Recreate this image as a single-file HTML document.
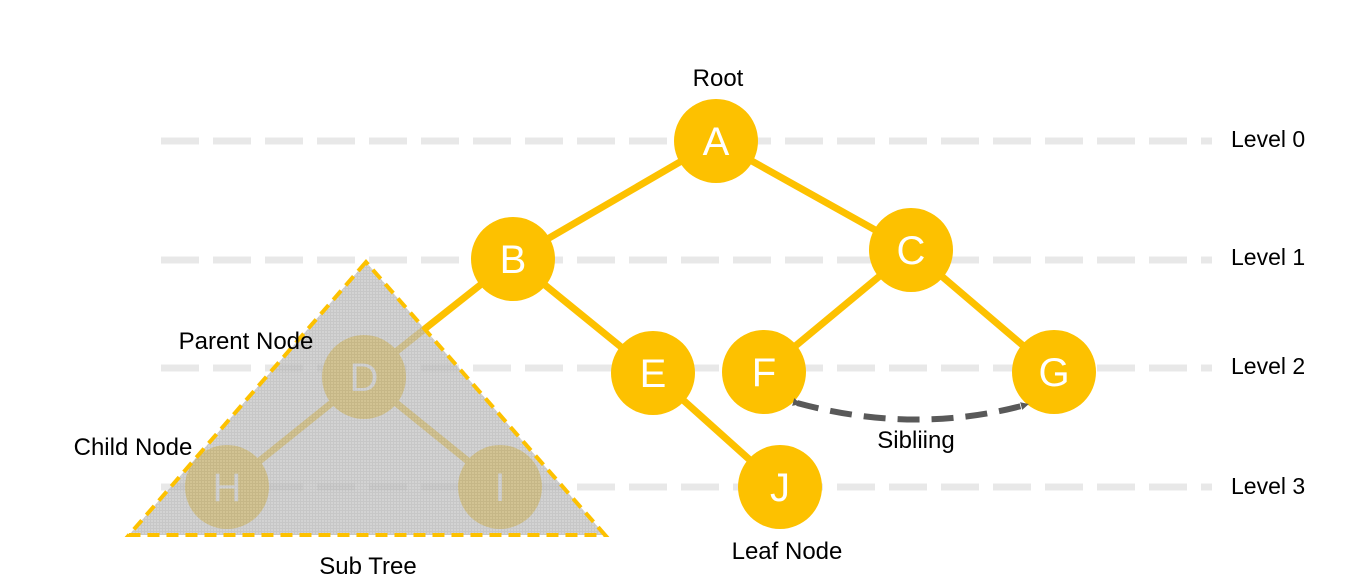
<!DOCTYPE html>
<html><head><meta charset="utf-8"><style>
html,body{margin:0;padding:0;background:#fff;}
svg{display:block;}
text{font-family:"Liberation Sans",Arial,sans-serif;}
</style></head><body>
<svg width="1358" height="582" viewBox="0 0 1358 582">
<defs>
<pattern id="hatch" width="3" height="3" patternUnits="userSpaceOnUse">
<rect width="3" height="3" fill="#c4c4c4"/>
<rect width="1" height="3" fill="#b4b4b4"/>
<rect width="3" height="1" fill="#b4b4b4"/>
</pattern>
<marker id="ah" markerWidth="8" markerHeight="8" refX="4" refY="4" orient="auto" markerUnits="userSpaceOnUse" viewBox="0 0 8 8">
<path d="M0,0 L8,4 L0,8 z" fill="#595959"/>
</marker>
</defs>
<g stroke="#e8e8e8" stroke-width="7" stroke-dasharray="38,14">
<line x1="161" y1="141" x2="1212" y2="141"/>
<line x1="161" y1="260" x2="1212" y2="260"/>
<line x1="161" y1="368" x2="1212" y2="368"/>
<line x1="161" y1="487" x2="1212" y2="487"/>
</g>
<g fill="#000" font-size="23">
<text x="1231" y="147">Level 0</text>
<text x="1231" y="265">Level 1</text>
<text x="1231" y="374">Level 2</text>
<text x="1231" y="494">Level 3</text>
</g>
<g stroke="#fdc100" stroke-width="7">
<line x1="716" y1="141" x2="513" y2="259"/>
<line x1="716" y1="141" x2="911" y2="250"/>
<line x1="513" y1="259" x2="364" y2="377"/>
<line x1="513" y1="259" x2="653" y2="373"/>
<line x1="911" y1="250" x2="764" y2="372"/>
<line x1="911" y1="250" x2="1054" y2="372"/>
<line x1="653" y1="373" x2="780" y2="487"/>
<line x1="364" y1="377" x2="227" y2="487"/>
<line x1="364" y1="377" x2="500" y2="487"/>
</g>
<g fill="#fdc100">
<circle cx="716" cy="141" r="42"/>
<circle cx="513" cy="259" r="42"/>
<circle cx="911" cy="250" r="42"/>
<circle cx="364" cy="377" r="42"/>
<circle cx="653" cy="373" r="42"/>
<circle cx="764" cy="372" r="42"/>
<circle cx="1054" cy="372" r="42"/>
<circle cx="227" cy="487" r="42"/>
<circle cx="500" cy="487" r="42"/>
<circle cx="780" cy="487" r="42"/>
</g>
<g fill="#fff" font-size="40" text-anchor="middle">
<text x="716" y="155">A</text>
<text x="513" y="273">B</text>
<text x="911" y="264">C</text>
<text x="364" y="391">D</text>
<text x="653" y="387">E</text>
<text x="764" y="386">F</text>
<text x="1054" y="386">G</text>
<text x="227" y="501">H</text>
<text x="500" y="501">I</text>
<text x="780" y="501">J</text>
</g>
<polygon points="366,262 129,535 605,535" fill="url(#hatch)" fill-opacity="0.75" stroke="#fdc100" stroke-width="4" stroke-dasharray="12,7"/>
<path d="M797,403 Q915,435 1025,405" fill="none" stroke="#595959" stroke-width="6" stroke-dasharray="22,12" marker-start="url(#ah)" marker-end="url(#ah)"/>
<g fill="#000" font-size="24" text-anchor="middle">
<text x="718" y="86">Root</text>
<text x="246" y="349">Parent Node</text>
<text x="133" y="455">Child Node</text>
<text x="368" y="574">Sub Tree</text>
<text x="787" y="559">Leaf Node</text>
<text x="916" y="448">Sibliing</text>
</g>
</svg>
</body></html>
